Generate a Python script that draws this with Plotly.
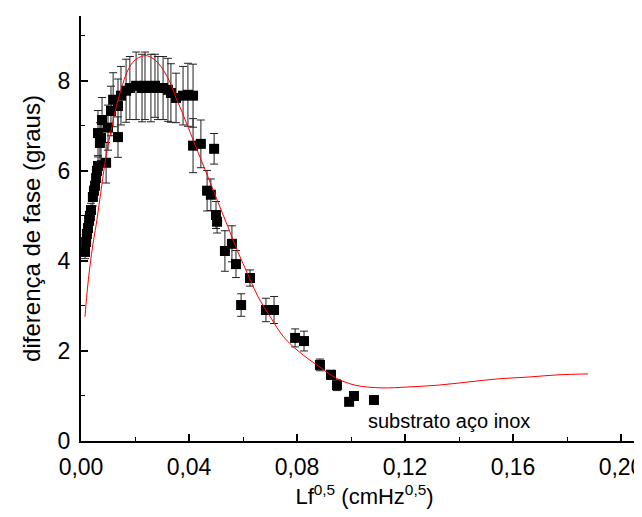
import plotly.graph_objects as go

# measured points
x_data = [0.0015, 0.0019, 0.0022, 0.0026, 0.0030, 0.0033, 0.0037, 0.0044, 0.0048, 0.0052,
          0.0056, 0.0059, 0.0063, 0.0093, 0.0063, 0.0074, 0.0070, 0.0078, 0.0100, 0.0111,
          0.0119, 0.0137, 0.0137, 0.0148, 0.0167, 0.0181, 0.0204, 0.0226, 0.0237, 0.0259,
          0.0274, 0.0285, 0.0304, 0.0322, 0.0333, 0.0352, 0.0378, 0.0396, 0.0415, 0.0415,
          0.0444, 0.0493, 0.0467, 0.0481, 0.0500, 0.0504, 0.0533, 0.0559, 0.0574, 0.0593,
          0.0626, 0.0685, 0.0715, 0.0793, 0.0826, 0.0885, 0.0926, 0.0948, 0.0993, 0.1011,
          0.1085]
y_data = [4.20, 4.42, 4.60, 4.73, 4.89, 5.00, 5.13, 5.42, 5.56, 5.67,
          5.84, 6.00, 6.11, 6.18, 6.84, 6.73, 6.62, 7.13, 6.96, 7.33,
          7.58, 6.75, 7.44, 7.67, 7.78, 7.84, 7.89, 7.84, 7.89, 7.84,
          7.89, 7.84, 7.84, 7.80, 7.73, 7.62, 7.67, 7.69, 7.67, 6.56,
          6.60, 6.49, 5.56, 5.47, 5.02, 4.87, 4.22, 4.38, 3.93, 3.02,
          3.62, 2.91, 2.91, 2.29, 2.22, 1.69, 1.47, 1.24, 0.87, 1.00,
          0.91]
y_err = [0.15, 0.15, 0.15, 0.15, 0.15, 0.15, 0.15, 0.2, 0.2, 0.2,
         0.2, 0.2, 0.2, 0.45, 0.5, 0.5, 0.45, 0.5, 0.5, 0.55,
         0.6, 0.45, 0.6, 0.65, 0.7, 0.7, 0.75, 0.75, 0.75, 0.75,
         0.7, 0.7, 0.7, 0.7, 0.65, 0.55, 0.65, 0.7, 0.7, 0.6,
         0.53, 0.34, 0.45, 0.35, 0.3, 0.25, 0.45, 0.4, 0.3, 0.25,
         0.18, 0.26, 0.3, 0.2, 0.22, 0.13, 0.1, 0.12, 0.05, 0.05,
         0.05]

# fitted curve
x_fit = [0.00148, 0.00222, 0.00333, 0.00444, 0.00556, 0.00704, 0.00889, 0.0100, 0.0115, 0.0126,
         0.0148, 0.0174, 0.0196, 0.0219, 0.0241, 0.0263, 0.0285, 0.0307, 0.0330, 0.0352,
         0.0374, 0.0396, 0.0433, 0.0470, 0.0507, 0.0544, 0.0581, 0.0619, 0.0656, 0.0704,
         0.0748, 0.0804, 0.0885, 0.0944, 0.1015, 0.1111, 0.1211, 0.1322, 0.1433, 0.1544,
         0.1656, 0.1767, 0.1878]
y_fit = [2.76, 3.29, 3.89, 4.38, 4.78, 5.40, 6.18, 6.56, 7.00, 7.31,
         7.80, 8.24, 8.44, 8.53, 8.56, 8.51, 8.40, 8.22, 7.96, 7.62,
         7.31, 6.98, 6.42, 5.87, 5.31, 4.76, 4.20, 3.69, 3.20, 2.73,
         2.33, 2.00, 1.64, 1.40, 1.24, 1.18, 1.20, 1.24, 1.31, 1.38,
         1.42, 1.47, 1.49]

x_ticks = [0.00, 0.04, 0.08, 0.12, 0.16, 0.20]
y_ticks = [0, 2, 4, 6, 8]
label_text = "substrato aço inox"

FONT = "Liberation Sans, Arial, sans-serif"

fig = go.Figure()
fig.add_trace(go.Scatter(
    x=x_data, y=y_data, mode="markers",
    marker=dict(symbol="square", size=10, color="black"),
    error_y=dict(type="data", array=y_err, color="#222222", thickness=1, width=4),
    showlegend=False))
fig.add_trace(go.Scatter(
    x=x_fit, y=y_fit, mode="lines", line=dict(color="red", width=1, shape="spline"),
    showlegend=False))

fig.add_annotation(x=0.1055, y=0.45, text=label_text, showarrow=False,
                   xanchor="left", yanchor="middle",
                   font=dict(family=FONT, size=20, color="black"))

fig.update_layout(
    width=642, height=517,
    margin=dict(l=73, r=2, t=8, b=84),
    paper_bgcolor="white", plot_bgcolor="white",
    separators=",.",
    font=dict(family=FONT, color="black"),
    xaxis=dict(range=[0, 0.21], tickvals=x_ticks, tickformat=".2f",
               showline=True, linecolor="black", linewidth=2,
               ticks="inside", ticklen=7, tickwidth=1.5, tickcolor="black",
               minor=dict(ticks="inside", ticklen=4, dtick=0.02, tick0=0, tickcolor="black", tickwidth=1),
               showgrid=False, zeroline=False, ticklabelstandoff=4,
               tickfont=dict(size=23, family=FONT),
               title=dict(text="Lf<sup>0,5</sup> (cmHz<sup>0,5</sup>)",
                          font=dict(size=22, family=FONT), standoff=10)),
    yaxis=dict(range=[0, 9.44], tickvals=y_ticks,
               showline=True, linecolor="black", linewidth=2,
               ticks="inside", ticklen=7, tickwidth=1.5, tickcolor="black",
               minor=dict(ticks="inside", ticklen=4, dtick=1, tick0=0, tickcolor="black", tickwidth=1),
               showgrid=False, zeroline=False, ticklabelstandoff=4,
               tickfont=dict(size=23, family=FONT),
               title=dict(text="diferença de fase (graus)",
                          font=dict(size=24, family=FONT), standoff=10)),
)

fig.write_html("out.html")
